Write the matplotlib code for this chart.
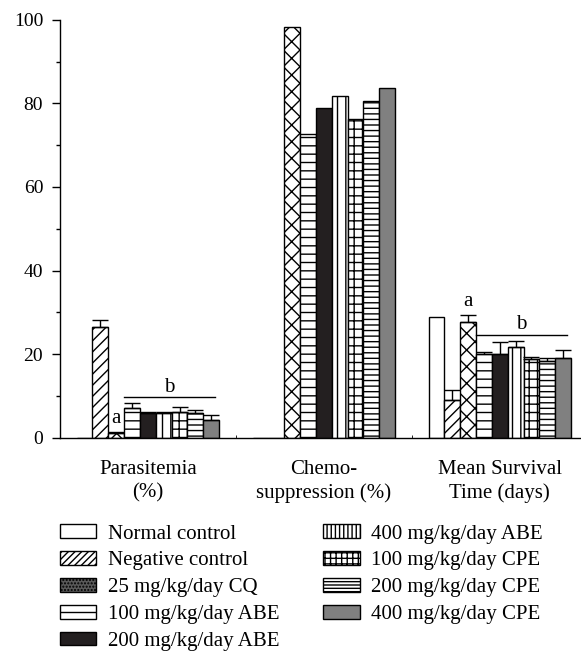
import matplotlib
matplotlib.use('Agg')
import matplotlib.pyplot as plt
import numpy as np
from matplotlib.patches import Patch

plt.rcParams['font.family'] = ['Liberation Serif', 'DejaVu Serif']
plt.rcParams['font.size'] = 15
plt.rcParams['hatch.linewidth'] = 1.0

# groups on the x axis
groups = ['Parasitemia\n(%)', 'Chemo-\nsuppression (%)', 'Mean Survival\nTime (days)']

# treatment names (legend order)
treatments = ['Normal control', 'Negative control', '25 mg/kg/day CQ',
              '100 mg/kg/day ABE', '200 mg/kg/day ABE', '400 mg/kg/day ABE',
              '100 mg/kg/day CPE', '200 mg/kg/day CPE', '400 mg/kg/day CPE']

# values, one list per group (treatment order as above)
parasitemia = [0, 26.5, 1.1, 7.2, 6.0, 5.8, 6.2, 5.8, 4.3]
parasitemia_err = [0, 1.6, 0.3, 1.0, 0.2, 0.3, 1.2, 0.8, 1.0]
chemo = [0, 0, 98.3, 72.8, 78.8, 81.8, 76.2, 80.6, 83.7]
survival = [28.8, 9.1, 27.7, 20.1, 20.1, 21.7, 18.9, 18.3, 19.1]
survival_err = [0, 2.4, 1.6, 0.5, 2.8, 1.5, 0.3, 0.8, 1.8]

# styles
faces = ['white', 'white', 'white', 'white', '#231f20', 'white', 'white', 'white', '#808080']
hatches = [None, '///', 'xx', '--', None, '||', '++', '---', None]
legend_faces = ['white', 'white', '#5a5a5a', 'white', '#231f20', 'white', 'white', 'white', '#808080']
legend_hatches = [None, '/////', '.....', '--', None, '||||', '+++', '-----', None]

values = [parasitemia, chemo, survival]
errors = [parasitemia_err, [0] * 9, survival_err]

fig = plt.figure(figsize=(5.81, 6.63), dpi=100)
ax = fig.add_axes([0.103, 0.340, 0.895, 0.630])

bw = 0.09
x = np.arange(len(groups))
for i in range(len(treatments)):
    pos = x + (i - 4) * bw
    vals = [v[i] for v in values]
    errs = [e[i] for e in errors]
    ax.bar(pos, vals, bw, color=faces[i], edgecolor='black', hatch=hatches[i],
           linewidth=1.0, zorder=2)
    for p, v, e in zip(pos, vals, errs):
        if e > 0:
            ax.errorbar(p, v, yerr=[[0], [e]], color='black', capsize=5.5,
                        elinewidth=1.0, capthick=1.0, zorder=3)

# significance marks
for g, vals, errs in [(0, parasitemia, parasitemia_err), (2, survival, survival_err)]:
    pos = g + (np.arange(9) - 4) * bw
    top_a = vals[2] + errs[2]
    ax.text(pos[2], top_a + 1.0, 'a', ha='center', va='bottom')
    top_b = max(v + e for v, e in zip(vals[3:], errs[3:])) + 1.4
    x0, x1 = pos[3] - bw / 2, pos[8] + bw / 4
    ax.plot([x0, x1], [top_b, top_b], color='black', lw=1.0)
    ax.text((x0 + x1) / 2, top_b + 0.2, 'b', ha='center', va='bottom')

ax.set_xlim(-0.5, 2.455)
ax.set_ylim(0, 100)
ax.set_yticks(np.arange(0, 101, 20))
ax.set_yticks(np.arange(10, 100, 20), minor=True)
ax.tick_params(axis='y', which='major', length=6, width=1.0, direction='out', pad=6,
               labelsize=14)
ax.tick_params(axis='y', which='minor', length=3, width=1.0, direction='out')
ax.set_xticks(x, groups, linespacing=1.3)
ax.set_xticks([0.5, 1.5], minor=True)
ax.tick_params(axis='x', which='major', length=0, pad=16)
ax.tick_params(axis='x', which='minor', length=2, direction='in')
for s in ['top', 'right']:
    ax.spines[s].set_visible(False)
for s in ['left', 'bottom']:
    ax.spines[s].set_linewidth(1.0)

handles = [Patch(facecolor=legend_faces[i], edgecolor='black', hatch=legend_hatches[i],
                 linewidth=1.0) for i in range(9)]
fig.legend(handles, treatments, ncol=2, frameon=False, loc='upper left',
           bbox_to_anchor=(60 / 581, 0.209), borderpad=0, borderaxespad=0,
           handlelength=1.75, handleheight=0.65, handletextpad=0.55,
           labelspacing=0.36, columnspacing=2.1)

fig.savefig('out.png', dpi=100)
